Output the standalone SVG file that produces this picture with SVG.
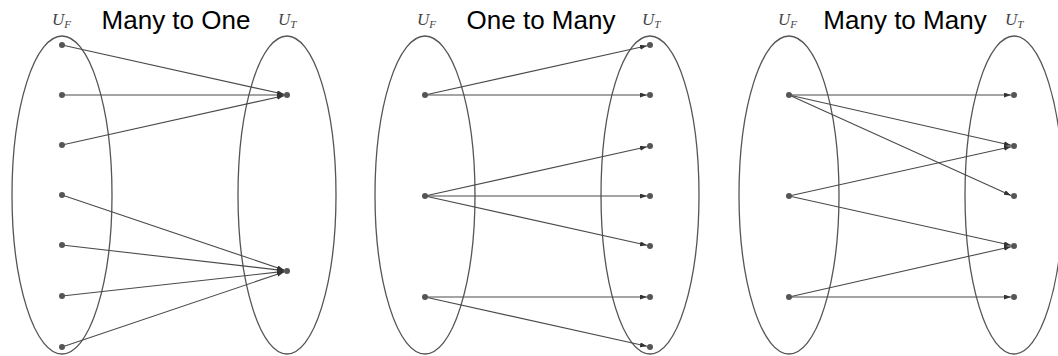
<svg xmlns="http://www.w3.org/2000/svg" width="1058" height="356" viewBox="0 0 1058 356">
<style>
.set{fill:none;stroke:#555;stroke-width:1.3}
.e{stroke:#4a4a4a;stroke-width:1.1;fill:none;marker-end:url(#ah)}
.d{fill:#555}
.t{font-family:"Liberation Sans",Arial,sans-serif;font-size:26px;fill:#000;text-anchor:middle}
.u{font-family:"Liberation Serif","DejaVu Serif",serif;font-style:italic;font-size:17px;fill:#444}
.s{font-size:11px}
</style>
<defs>
<marker id="ah" markerUnits="userSpaceOnUse" markerWidth="8" markerHeight="6" refX="7" refY="2.5" orient="auto">
<path d="M0,0 L7,2.5 L0,5 Z" fill="#333"/>
</marker>
</defs>
<rect width="1058" height="356" fill="#fff"/>
<g id="titles">
<text class="t" x="176" y="29">Many to One</text>
<text class="t" x="541" y="29">One to Many</text>
<text class="t" x="905" y="29">Many to Many</text>
</g>
<g id="labels">
<text class="u" x="52" y="25">U<tspan class="s" dy="3">F</tspan></text>
<text class="u" x="278" y="25">U<tspan class="s" dy="3">T</tspan></text>
<text class="u" x="417" y="25">U<tspan class="s" dy="3">F</tspan></text>
<text class="u" x="642" y="25">U<tspan class="s" dy="3">T</tspan></text>
<text class="u" x="778" y="25">U<tspan class="s" dy="3">F</tspan></text>
<text class="u" x="1005" y="25">U<tspan class="s" dy="3">T</tspan></text>
</g>
<g id="sets">
<ellipse id="p1-from" class="set" cx="62" cy="195" rx="50" ry="159"/>
<ellipse id="p1-to" class="set" cx="287" cy="195" rx="49" ry="159"/>
<ellipse id="p2-from" class="set" cx="425" cy="195" rx="50" ry="159"/>
<ellipse id="p2-to" class="set" cx="650" cy="195" rx="49" ry="159"/>
<ellipse id="p3-from" class="set" cx="789" cy="195" rx="50" ry="159"/>
<ellipse id="p3-to" class="set" cx="1014" cy="195" rx="49" ry="159"/>
</g>
<g id="connectors">
<line class="e" x1="62" y1="45" x2="284" y2="94.3"/>
<line class="e" x1="62" y1="95" x2="284" y2="95"/>
<line class="e" x1="62" y1="145" x2="284" y2="95.7"/>
<line class="e" x1="62" y1="195" x2="284" y2="270"/>
<line class="e" x1="62" y1="245" x2="284" y2="270.6"/>
<line class="e" x1="62" y1="296" x2="284" y2="271.4"/>
<line class="e" x1="62" y1="347" x2="284" y2="272"/>

<line class="e" x1="425" y1="95" x2="647" y2="45.7"/>
<line class="e" x1="425" y1="95" x2="647" y2="95"/>
<line class="e" x1="425" y1="196" x2="647" y2="146.7"/>
<line class="e" x1="425" y1="196" x2="647" y2="196"/>
<line class="e" x1="425" y1="196" x2="647" y2="245.3"/>
<line class="e" x1="425" y1="297" x2="647" y2="297"/>
<line class="e" x1="425" y1="297" x2="647" y2="346.3"/>

<line class="e" x1="789" y1="95" x2="1011" y2="95"/>
<line class="e" x1="789" y1="95" x2="1011" y2="145.3"/>
<line class="e" x1="789" y1="95" x2="1011" y2="195.4"/>
<line class="e" x1="789" y1="196" x2="1011" y2="146.7"/>
<line class="e" x1="789" y1="196" x2="1011" y2="245.3"/>
<line class="e" x1="789" y1="297" x2="1011" y2="246.7"/>
<line class="e" x1="789" y1="297" x2="1011" y2="297"/>
</g>
<g id="p1-nodes" class="d">
<circle cx="62" cy="45" r="3"/><circle cx="62" cy="95" r="3"/><circle cx="62" cy="145" r="3"/><circle cx="62" cy="195" r="3"/><circle cx="62" cy="245" r="3"/><circle cx="62" cy="296" r="3"/><circle cx="62" cy="347" r="3"/>
<circle cx="287" cy="95" r="3"/><circle cx="287" cy="271" r="3"/>
</g>
<g id="p2-nodes" class="d">
<circle cx="425" cy="95" r="3"/><circle cx="425" cy="196" r="3"/><circle cx="425" cy="297" r="3"/>
<circle cx="650" cy="45" r="3"/><circle cx="650" cy="95" r="3"/><circle cx="650" cy="146" r="3"/><circle cx="650" cy="196" r="3"/><circle cx="650" cy="246" r="3"/><circle cx="650" cy="297" r="3"/><circle cx="650" cy="347" r="3"/>
</g>
<g id="p3-nodes" class="d">
<circle cx="789" cy="95" r="3"/><circle cx="789" cy="196" r="3"/><circle cx="789" cy="297" r="3"/>
<circle cx="1014" cy="95" r="3"/><circle cx="1014" cy="146" r="3"/><circle cx="1014" cy="196" r="3"/><circle cx="1014" cy="246" r="3"/><circle cx="1014" cy="297" r="3"/>
</g>
</svg>
